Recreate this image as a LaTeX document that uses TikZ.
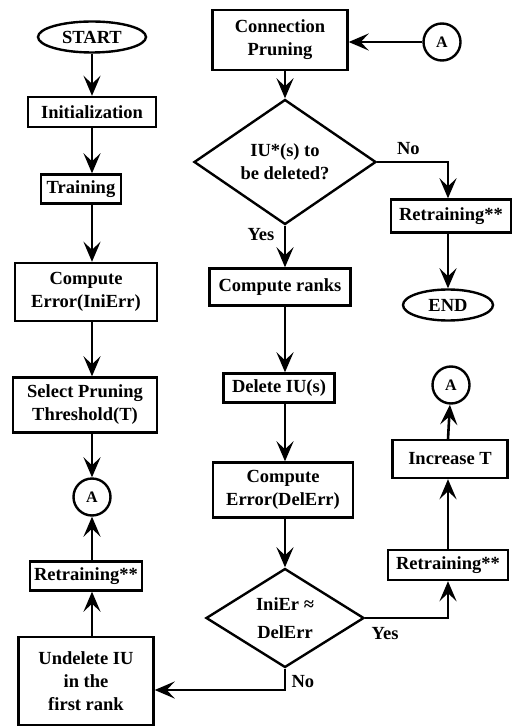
\documentclass[tikz,border=0pt]{standalone}
\usepackage{fontspec}
\setmainfont{Liberation Serif}
\usetikzlibrary{shapes.geometric,arrows.meta}
\tikzset{
  txt/.style={font=\fontsize{18.5}{23}\selectfont\bfseries},
  box/.style={txt,draw,line width=2.4pt,inner sep=0pt,align=center},
  term/.style={box,ellipse},
  cond/.style={box,diamond},
  conn/.style={box,circle,minimum size=37pt,font=\fontsize{16}{18}\selectfont\bfseries},
  arr/.style={line width=2.6pt,-{Stealth[length=20pt,width=17pt,inset=8pt]}}
}
\begin{document}
\begin{tikzpicture}[x=1pt,y=-1pt]
\useasboundingbox (0,0) rectangle (518,727);

\node[term,minimum width=108pt,minimum height=31pt] (start) at (92,37) {START};
\node[box,minimum width=128pt,minimum height=30pt] (init) at (92,112) {Initialization};
\node[box,minimum width=80pt,minimum height=29pt] (train) at (81,189) {Training};
\node[box,minimum width=142pt,minimum height=58pt] (err1) at (86,292) {Compute\\Error(IniErr)};
\node[box,minimum width=144pt,minimum height=55pt] (thresh) at (85,405) {Select Pruning\\Threshold(T)};
\node[conn] (aleft) at (92,497) {A};
\node[box,minimum width=112pt,minimum height=29pt] (retr1) at (86,576) {Retraining**};
\node[box,minimum width=135pt,minimum height=88pt] (undel) at (86,681) {Undelete IU\\in the\\first rank};

\node[box,minimum width=135pt,minimum height=60pt] (prune) at (280,40) {Connection\\Pruning};
\node[conn] (atop) at (442,42) {A};
\node[cond,minimum width=182pt,minimum height=100pt] (dec1) at (285,162) {IU*(s) to\\be deleted?};
\node[box,minimum width=141pt,minimum height=37pt] (ranks) at (280,287) {Compute ranks};
\node[box,minimum width=111pt,minimum height=29pt] (del) at (279,388) {Delete IU(s)};
\node[box,minimum width=140pt,minimum height=55pt] (err2) at (283,490) {Compute\\Error(DelErr)};
\node[cond,minimum width=158pt,minimum height=92pt] (dec2) at (285,618) {IniEr ≈\\[5pt]DelErr};

\node[box,minimum width=120pt,minimum height=33pt] (retr2) at (451,216) {Retraining**};
\node[term,minimum width=90pt,minimum height=31pt] (end) at (448,305) {END};
\node[conn] (amid) at (451,385) {A};
\node[box,minimum width=115pt,minimum height=38pt] (inct) at (450,459) {Increase T};
\node[box,minimum width=120pt,minimum height=30pt] (retr3) at (448,565) {Retraining**};

\draw[arr] (start) -- (init);
\draw[arr] (init) -- (init |- train.north);
\draw[arr] (init |- train.south) -- (init |- err1.north);
\draw[arr] (init |- err1.south) -- (init |- thresh.north);
\draw[arr] (init |- thresh.south) -- (aleft);
\draw[arr] (init |- undel.north) -- (init |- retr1.south);
\draw[arr] (init |- retr1.north) -- (aleft);

\draw[arr] (atop.west) -- (atop.west -| prune.east);
\draw[arr] (dec1 |- prune.south) -- (dec1.north);
\draw[arr] (dec1.east) -| node[txt,pos=.22,above=3pt]{No} (retr2.north -| end);
\draw[arr] (end |- retr2.south) -- (end);
\draw[arr] (dec1.south) -- node[txt,pos=.22,left=6pt]{Yes} (dec1 |- ranks.north);
\draw[arr] (dec1 |- ranks.south) -- (dec1 |- del.north);
\draw[arr] (dec1 |- del.south) -- (dec1 |- err2.north);
\draw[arr] (dec1 |- err2.south) -- (dec2.north);
\draw[arr] (dec2.east) -| node[txt,pos=.12,below=5pt]{Yes} (retr3.south);
\draw[arr] (retr3) -- (retr3 |- inct.south);
\draw[arr] (retr3 |- inct.north) -- (amid);
\draw[arr] (dec2.south) |- node[txt,pos=.3,right=2pt]{No} ([yshift=-9pt]undel.east);
\end{tikzpicture}
\end{document}
